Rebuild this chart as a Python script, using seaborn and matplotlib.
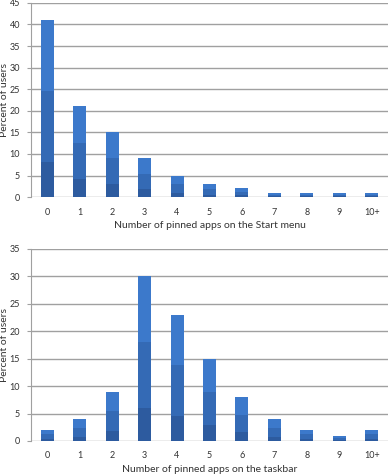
import numpy as np
import pandas as pd
import matplotlib
matplotlib.use("Agg")
import matplotlib.pyplot as plt
import seaborn as sns

# Data
categories = ["0", "1", "2", "3", "4", "5", "6", "7", "8", "9", "10+"]
start_menu = [41, 21, 15, 9, 5, 3, 2, 1, 1, 1, 1]
taskbar = [2, 4, 9, 30, 23, 15, 8, 4, 2, 1, 2]

sns.set_style("white")
plt.rcParams['font.family'] = ['Lato', 'DejaVu Sans']

fig = plt.figure(figsize=(3.89, 4.75), dpi=100)
ax1 = fig.add_axes([0.080, 0.585, 0.917, 0.409])
ax2 = fig.add_axes([0.080, 0.0716, 0.917, 0.4042])


def draw(ax, values, ymax, xlabel):
    df = pd.DataFrame({"cat": categories, "val": values})
    # layered bars to imitate the shaded gradient of the original
    shades = [(1.0, "#3c79cb"), (0.6, "#346ab5"), (0.2, "#2d5b9f")]
    for frac, col in shades:
        sns.barplot(data=df.assign(val=df["val"] * frac), x="cat", y="val",
                    color=col, width=0.4, saturation=1, ax=ax, zorder=3,
                    linewidth=0, edgecolor="none")
    ax.set_xlim(-0.5, len(categories) - 0.5)
    ax.set_ylim(0, ymax)
    ax.set_yticks(np.arange(0, ymax + 1, 5))
    ax.yaxis.grid(True, color="#a0a0a0", linewidth=1.0, zorder=0)
    ax.set_axisbelow(True)
    for s in ["top", "right", "bottom"]:
        ax.spines[s].set_visible(False)
    ax.spines["left"].set_color("#a0a0a0")
    ax.tick_params(axis="y", left=True, length=3, color="#a0a0a0",
                   labelsize=6.5, labelcolor="#333333", pad=5)
    ax.tick_params(axis="x", bottom=False, labelsize=6.5,
                   labelcolor="#333333", pad=4)
    ax.set_xlabel(xlabel, fontsize=7.5, color="#333333", labelpad=3)
    ax.set_ylabel("Percent of users", fontsize=7.5, color="#333333")
    ax.yaxis.set_label_coords(-0.062, 0.5)


draw(ax1, start_menu, 45, "Number of pinned apps on the Start menu")
draw(ax2, taskbar, 35, "Number of pinned apps on the taskbar")

fig.savefig("out.png", dpi=100)
